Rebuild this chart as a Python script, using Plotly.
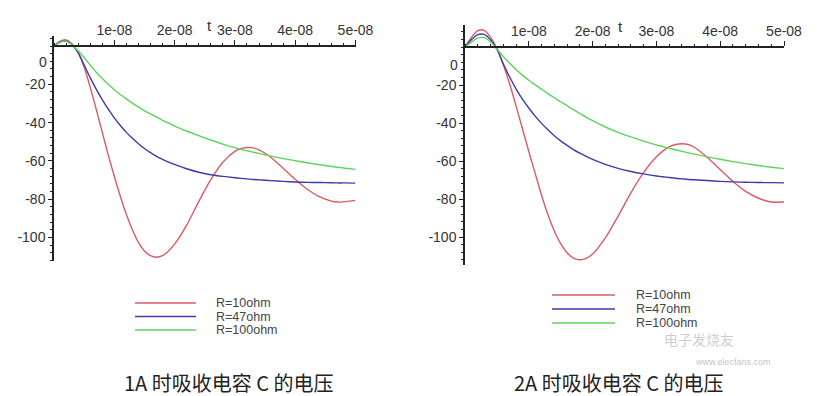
import plotly.graph_objects as go

W, H = 817, 396

# ---------------- data (time in ns, voltage in V) ----------------
t_ns = [0, 1, 2, 3, 4, 5, 6, 7, 8, 9, 10, 11, 12, 13, 14, 15, 16, 17, 18, 19, 20,
        22, 24, 26, 28, 30, 31, 32, 33, 34, 35, 36, 38, 40, 42, 44, 46, 47, 48, 50]

# 1A case
v1_r10 = [0, 2.5, 3.2, 1.0, -3.5, -11, -21.5, -33, -45, -57, -68, -78.5, -88, -96, -102.5, -107,
          -109.5, -110.3, -109.5, -107, -103.5, -93.5, -81.3, -69.8, -60.7, -55.0, -53.6, -53.0,
          -53.2, -54.3, -56.0, -58.2, -63.8, -69.6, -74.8, -78.7, -81.0, -81.5, -81.4, -80.6]
v1_r47 = [0, 2.0, 2.6, 0.8, -3.5, -10, -16.5, -22.5, -28, -33, -37.5, -41.5, -45.1, -48.2, -51,
          -53.5, -55.7, -57.6, -59.2, -60.6, -61.8, -64.1, -65.9, -67.2, -68.1, -68.8, -69.1, -69.4,
          -69.7, -69.9, -70.1, -70.3, -70.7, -71.0, -71.2, -71.3, -71.4, -71.5, -71.5, -71.6]
v1_r100 = [0, 2.0, 2.5, 0.6, -2.5, -6, -10, -13.7, -17, -20, -22.8, -25.3, -27.6, -29.8, -31.8,
           -33.7, -35.5, -37.2, -38.8, -40.3, -41.8, -44.4, -46.8, -49.1, -51.2, -53.1, -53.9,
           -54.7, -55.4, -56.1, -56.8, -57.5, -58.8, -59.9, -61.0, -62.0, -62.9, -63.3, -63.7, -64.4]

# 2A case
v2_r10 = [0, 5, 8.6, 8.8, 5.2, -0.8, -9.3, -19.5, -31, -43, -55, -66.5, -78, -88.3, -96.8, -103.5,
          -108.3, -111.1, -112, -111.3, -109, -100.5, -89, -76.8, -66, -57.8, -54.8, -52.6, -51.3,
          -50.9, -51.3, -52.9, -58.2, -64.5, -70.8, -76, -79.6, -80.8, -81.6, -81.6]
v2_r47 = [0, 3.8, 6.5, 6.6, 3.8, -1.2, -8.8, -15.8, -22, -27.4, -32.1, -36.4, -40.2, -43.6, -46.7,
          -49.4, -51.8, -54, -55.9, -57.6, -59.2, -61.8, -63.9, -65.5, -66.8, -67.9, -68.3, -68.7,
          -69.1, -69.4, -69.7, -69.9, -70.3, -70.7, -71.0, -71.2, -71.3, -71.4, -71.4, -71.5]
v2_r100 = [0, 2.6, 4.7, 4.9, 2.6, -1, -5, -8.6, -11.8, -14.8, -17.5, -19.9, -22.2, -24.5, -26.7,
           -28.8, -30.9, -33, -35, -37, -38.8, -42.1, -44.9, -47.3, -49.5, -51.5, -52.4, -53.3,
           -54.1, -54.9, -55.7, -56.4, -57.8, -59.1, -60.3, -61.4, -62.4, -62.9, -63.3, -64.0]

series_names = ["R=10ohm", "R=47ohm", "R=100ohm"]
x_tickvals = [1e-8, 2e-8, 3e-8, 4e-8, 5e-8]
x_ticktext = ["1e-08", "2e-08", "3e-08", "4e-08", "5e-08"]
y_tickvals = [-100, -80, -60, -40, -20]
y_ticktext = ["-100", "-80", "-60", "-40", "-20"]
captions = ["1A 时吸收电容 C 的电压", "2A 时吸收电容 C 的电压"]

t_sec = [v * 1e-9 for v in t_ns]

# ---------------- styling / layout ----------------
colors = ["#dc5a64", "#3c3ca8", "#5cd45c"]
axis_font = dict(family="Liberation Sans, Arial, sans-serif", size=14, color="#333333")

# panel geometry in pixels: (x at t=0, x at t=5e-8, y pixel of v=0, px per volt, vmin, vmax)
panels = [
    dict(x0=54, x1=355.5, yz=46, k=1.915, vmin=-112.5, vmax=5.2),
    dict(x0=465, x1=784, yz=47, k=1.9, vmin=-114.7, vmax=11.6),
]

fig = go.Figure()
data_sets = [[v1_r10, v1_r47, v1_r100], [v2_r10, v2_r47, v2_r100]]

for i, (p, ds) in enumerate(zip(panels, data_sets)):
    xa = "x" if i == 0 else "x2"
    ya = "y" if i == 0 else "y2"
    for j, vals in enumerate(ds):
        fig.add_trace(go.Scatter(
            x=t_sec, y=vals, mode="lines", name=series_names[j],
            line=dict(color=colors[j], width=1.4, shape="spline", smoothing=0.8),
            xaxis=xa, yaxis=ya, showlegend=False, hoverinfo="skip"))

layout_axes = {}
for i, p in enumerate(panels):
    ybot = p["yz"] - p["vmin"] * p["k"]
    ytop = p["yz"] - p["vmax"] * p["k"]
    ydom = [1 - ybot / H, 1 - ytop / H]
    xdom = [p["x0"] / W, p["x1"] / W]
    pos0 = 1 - p["yz"] / H
    xk = "xaxis" if i == 0 else "xaxis2"
    yk = "yaxis" if i == 0 else "yaxis2"
    xname = "x" if i == 0 else "x2"
    layout_axes[xk] = dict(
        domain=xdom, range=[0, 5e-8], anchor="free", position=pos0, side="top",
        automargin=False,
        showline=True, linecolor="#222222", linewidth=1.5, showgrid=False, zeroline=False,
        tickmode="array", tickvals=x_tickvals, ticktext=x_ticktext,
        ticks="outside", ticklen=5, tickwidth=1.2, tickcolor="#222222",
        minor=dict(dtick=2e-9, tick0=0, ticks="outside", ticklen=2.5, tickcolor="#222222", showgrid=False),
        tickfont=axis_font)
    layout_axes[yk] = dict(
        domain=ydom, range=[p["vmin"], p["vmax"]], anchor=xname,
        automargin=False,
        showline=True, linecolor="#222222", linewidth=1.5, showgrid=False, zeroline=False,
        tickmode="array", tickvals=y_tickvals, ticktext=y_ticktext,
        ticks="outside", ticklen=4, tickwidth=1.2, tickcolor="#222222",
        minor=dict(dtick=4, tick0=0, ticks="outside", ticklen=2.5, tickcolor="#222222", showgrid=False),
        tickfont=axis_font)

annotations = []
shapes = []
# "t" axis titles and "0" labels
t_pos = [(205, 15), (625, 16)]
zero_pos = [(49, 52), (460, 55)]
for (tx, ty) in t_pos:
    annotations.append(dict(x=tx / W, y=1 - ty / H, xref="paper", yref="paper", text="t",
                            showarrow=False, font=dict(family="Liberation Sans, Arial", size=15, color="#333333")))
for (zx, zy) in zero_pos:
    annotations.append(dict(x=zx / W, y=1 - zy / H, xref="paper", yref="paper", text="0",
                            xanchor="right", showarrow=False, font=axis_font))

# legends (line sample + label)
legend_geo = [
    dict(lx0=135, lx1=196, ys=[303, 316.5, 330], tx=215),
    dict(lx0=552, lx1=615, ys=[295, 309, 323], tx=635),
]
for g in legend_geo:
    for j, yy in enumerate(g["ys"]):
        shapes.append(dict(type="line", xref="paper", yref="paper",
                           x0=g["lx0"] / W, x1=g["lx1"] / W, y0=1 - yy / H, y1=1 - yy / H,
                           line=dict(color=colors[j], width=1.4)))
        annotations.append(dict(x=g["tx"] / W, y=1 - yy / H, xref="paper", yref="paper",
                                text=series_names[j], xanchor="left", yanchor="middle", showarrow=False,
                                borderpad=0,
                                font=dict(family="Liberation Sans, Arial", size=12.5, color="#444444")))

# captions
cap_x = [123, 513]
for cx, cap in zip(cap_x, captions):
    annotations.append(dict(x=cx / W, y=1 - 382 / H, xref="paper", yref="paper", text=cap,
                            xanchor="left", yanchor="middle", showarrow=False, borderpad=0,
                            font=dict(family="Noto Sans CJK SC", size=20, color="#222222")))

# faint watermark
annotations.append(dict(x=735 / W, y=1 - 350 / H, xref="paper", yref="paper", text="电子发烧友",
                        showarrow=False, borderpad=0,
                        font=dict(family="Noto Sans CJK SC", size=14, color="rgba(140,140,140,0.45)")))
annotations.append(dict(x=772 / W, y=1 - 368 / H, xref="paper", yref="paper", text="www.elecfans.com",
                        showarrow=False, borderpad=0,
                        font=dict(family="Liberation Sans, Arial", size=9, color="rgba(140,140,140,0.55)")))

fig.update_layout(
    width=W, height=H, margin=dict(l=0, r=0, t=0, b=0, autoexpand=False),
    paper_bgcolor="white", plot_bgcolor="white",
    annotations=annotations, shapes=shapes, showlegend=False,
    **layout_axes)

fig.write_html("out.html", config={"displayModeBar": False},
               post_script="document.body.style.margin='0';document.body.style.padding='0';")
